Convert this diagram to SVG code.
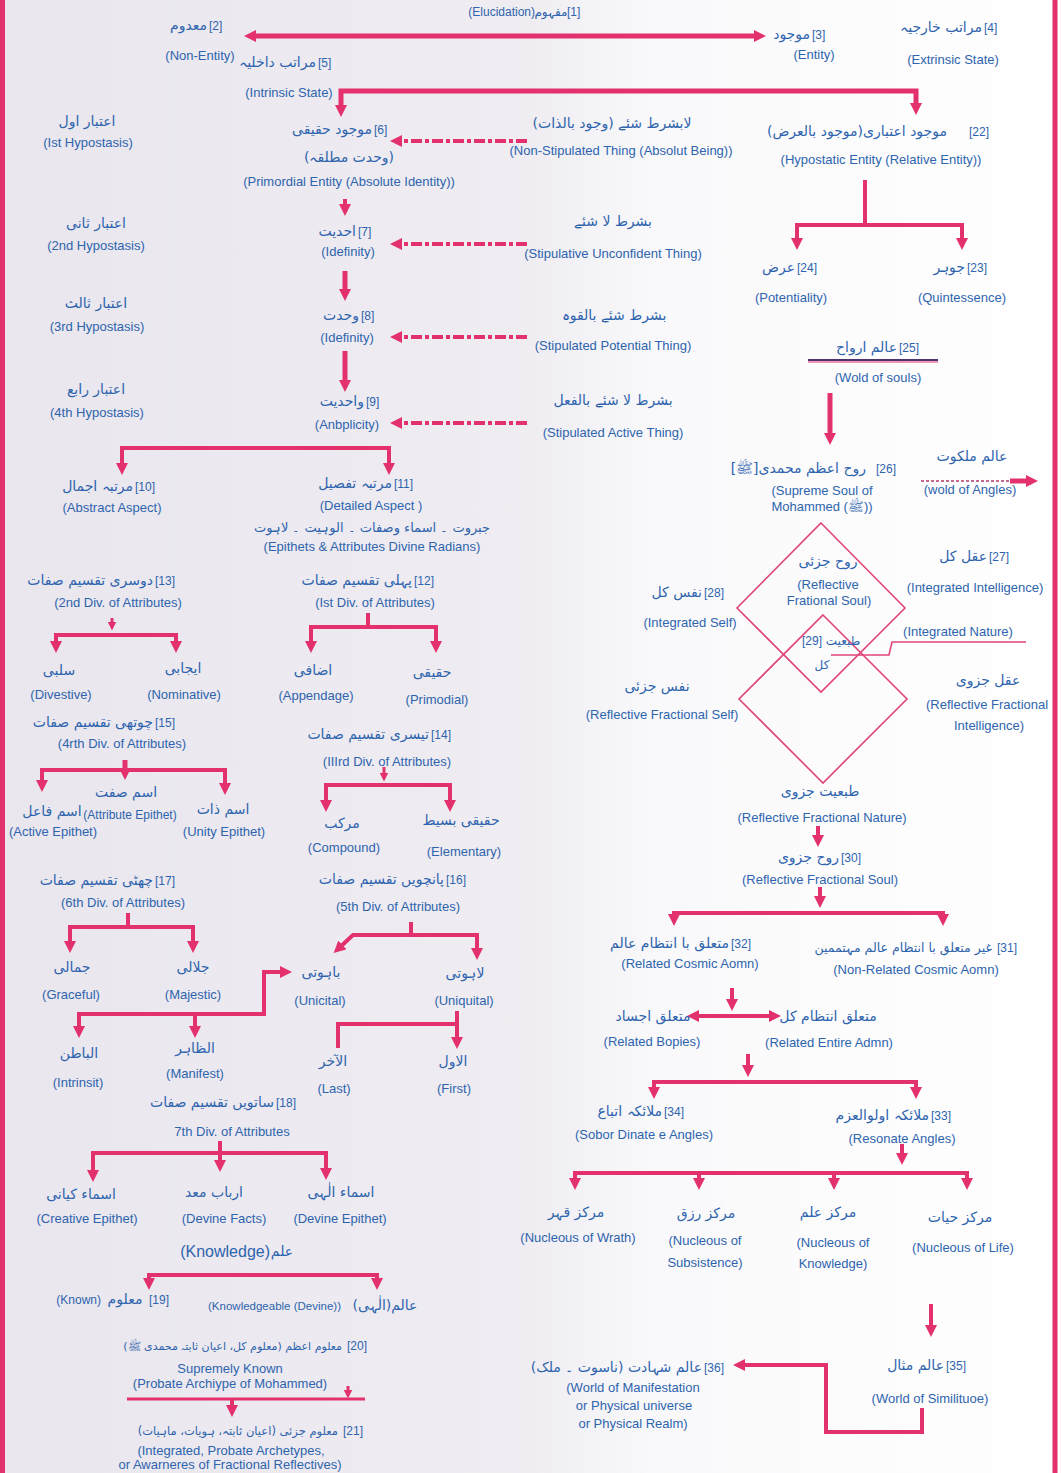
<svg xmlns="http://www.w3.org/2000/svg" width="1061" height="1473" viewBox="0 0 1061 1473">
<defs>
<linearGradient id="bg" x1="0" y1="0" x2="1" y2="0">
<stop offset="0" stop-color="#e9e6ee"/>
<stop offset="0.5" stop-color="#efedf2"/>
<stop offset="0.62" stop-color="#f9f9fb"/>
<stop offset="1" stop-color="#ffffff"/>
</linearGradient>
<marker id="a" viewBox="0 0 12 12" refX="6" refY="6" markerWidth="12" markerHeight="12" markerUnits="userSpaceOnUse" orient="auto-start-reverse"><path d="M0,0L12,6L0,12z" fill="#e3316d"/></marker>
<marker id="b" viewBox="0 0 10 10" refX="5" refY="5" markerWidth="9" markerHeight="9" markerUnits="userSpaceOnUse" orient="auto-start-reverse"><path d="M0,0L10,5L0,10z" fill="#e3316d"/></marker>
</defs>
<style>
.c{fill:none;stroke:#e3316d;stroke-width:4}
.t{fill:none;stroke:#e3316d;stroke-width:5}
.s{fill:none;stroke:#e3316d;stroke-width:3}
.cd{fill:none;stroke:#e3316d;stroke-width:4;stroke-dasharray:11 3 4 3}
.d{fill:none;stroke:#e0457a;stroke-width:1.6}
.e{font-family:"Liberation Sans",Arial,sans-serif;font-size:13px;fill:#2e64ad;text-anchor:middle}
.n{font-family:"Liberation Sans",Arial,sans-serif;font-size:12px;fill:#2e64ad}
.u{font-family:"DejaVu Sans","Noto Sans",sans-serif;font-size:14px;fill:#2e64ad;text-anchor:middle;direction:rtl}
.ur{font-family:"DejaVu Sans","Noto Sans",sans-serif;font-size:14px;fill:#2e64ad;text-anchor:start;direction:rtl}
</style>
<rect x="0" y="0" width="1061" height="1473" fill="url(#bg)"/>
<g id="borders">
<line x1="2.5" y1="0" x2="2.5" y2="1473" stroke="#e3316d" stroke-width="5"/>
<line x1="1055" y1="0" x2="1055" y2="1473" stroke="#e3316d" stroke-width="5"/>
</g>

<g id="connectors">
<path class="t" d="M250,36H760" marker-start="url(#a)" marker-end="url(#a)"/>
<path class="t" d="M341,111V91H916V109" marker-start="url(#a)" marker-end="url(#a)"/>
<path class="cd" d="M527,141H396" marker-end="url(#a)"/>
<path class="cd" d="M527,244H396" marker-end="url(#a)"/>
<path class="cd" d="M527,337H396" marker-end="url(#a)"/>
<path class="cd" d="M527,423H396" marker-end="url(#a)"/>
<path class="c" d="M345,199V210" marker-end="url(#a)"/>
<path class="t" d="M345,271V295" marker-end="url(#a)"/>
<path class="t" d="M345,351V386" marker-end="url(#a)"/>
<path class="c" d="M122,469V448H389V469" marker-start="url(#a)" marker-end="url(#a)"/>
<path class="c" d="M865,180V225"/>
<path class="c" d="M797,244V225H962V244" marker-start="url(#a)" marker-end="url(#a)"/>
<path d="M808,360H938" fill="none" stroke="#4b3470" stroke-width="2"/>
<path d="M808,362H938" fill="none" stroke="#e3316d" stroke-width="1"/>
<path class="t" d="M830,393V439" marker-end="url(#a)"/>
<path d="M921,481H1011" fill="none" stroke="#b03a6a" stroke-width="1.5" stroke-dasharray="3 2"/>
<path class="t" d="M1010,481H1032" marker-end="url(#a)"/>
<path class="d" d="M821,523L905,608L821,692L737,608Z"/>
<path class="d" d="M823,615L907,699L823,783L739,699Z"/>
<path class="d" d="M1026,642H892L889,655H831"/>
<path class="c" d="M818,826V841" marker-end="url(#a)"/>
<path class="c" d="M820,887V902" marker-end="url(#a)"/>
<path class="c" d="M674,920V913H943V920" marker-start="url(#a)" marker-end="url(#a)"/>
<path class="c" d="M732,988V1005" marker-end="url(#a)"/>
<path class="c" d="M693,1016H775" marker-start="url(#a)" marker-end="url(#a)"/>
<path class="c" d="M748,1054V1071" marker-end="url(#a)"/>
<path class="c" d="M654,1093V1082H916V1093" marker-start="url(#a)" marker-end="url(#a)"/>
<path class="c" d="M902,1144V1159" marker-end="url(#a)"/>
<path class="c" d="M575,1184V1173H967V1184" marker-start="url(#a)" marker-end="url(#a)"/>
<path class="c" d="M699,1173V1184" marker-end="url(#a)"/>
<path class="c" d="M834,1173V1184" marker-end="url(#a)"/>
<path class="c" d="M931,1304V1331" marker-end="url(#a)"/>
<path class="c" d="M922,1408V1432H826V1365H739" marker-end="url(#a)"/>
<path class="c" d="M368,613V627"/>
<path class="c" d="M311,647V627H436V647" marker-start="url(#a)" marker-end="url(#a)"/>
<path class="s" d="M112,618V626" marker-end="url(#b)"/>
<path class="c" d="M56,647V635H176V647" marker-start="url(#a)" marker-end="url(#a)"/>
<path class="t" d="M125,760V774" marker-end="url(#a)"/>
<path class="c" d="M42,786V770H225V789" marker-start="url(#a)" marker-end="url(#a)"/>
<path class="s" d="M384,767V777" marker-end="url(#b)"/>
<path class="c" d="M326,806V785H450V806" marker-start="url(#a)" marker-end="url(#a)"/>
<path class="c" d="M128,913V927"/>
<path class="c" d="M70,947V927H193V947" marker-start="url(#a)" marker-end="url(#a)"/>
<path class="c" d="M411,922V935"/>
<path class="c" d="M477,954V935H353L338,949" marker-start="url(#a)" marker-end="url(#a)"/>
<path class="c" d="M79,1032V1014H264V972H286" marker-start="url(#a)" marker-end="url(#a)"/>
<path class="c" d="M195,1014V1032" marker-end="url(#a)"/>
<path class="c" d="M457,1011V1043" marker-end="url(#a)"/>
<path class="c" d="M338,1048V1024H457"/>
<path class="c" d="M220,1141V1166" marker-end="url(#a)"/>
<path class="c" d="M93,1176V1153H326V1174" marker-start="url(#a)" marker-end="url(#a)"/>
<path class="c" d="M149,1284V1275H377V1284" marker-start="url(#a)" marker-end="url(#a)"/>
<path class="s" d="M348,1386V1394" marker-end="url(#b)"/>
<path class="s" d="M127,1399H365"/>
<path class="c" d="M232,1399V1411" marker-end="url(#a)"/>
</g>

<g id="n1"><text class="e" x="535" y="16" style="text-anchor:end;font-size:12px">(Elucidation)</text><text class="u" x="551" y="16" style="font-size:12px">مفہوم</text><text class="n" x="567" y="16">[1]</text></g>
<g id="n2"><text class="ur" x="207" y="30">معدوم</text><text class="n" x="209" y="30">[2]</text><text class="e" x="200" y="60">(Non-Entity)</text></g>
<g id="n3"><text class="ur" x="810" y="39">موجود</text><text class="n" x="812" y="39">[3]</text><text class="e" x="814" y="59">(Entity)</text></g>
<g id="n4"><text class="ur" x="982" y="32">مراتب خارجیہ</text><text class="n" x="984" y="32">[4]</text><text class="e" x="953" y="64">(Extrinsic State)</text></g>
<g id="n5"><text class="ur" x="316" y="67">مراتب داخلیہ</text><text class="n" x="318" y="67">[5]</text><text class="e" x="289" y="97">(Intrinsic State)</text></g>
<g id="n6"><text class="ur" x="372" y="134">موجود حقیقی</text><text class="n" x="374" y="134">[6]</text><text class="u" x="349" y="162">(وحدت مطلقہ)</text><text class="e" x="349" y="186">(Primordial Entity (Absolute Identity))</text></g>
<g id="h1"><text class="u" x="87" y="126">اعتبار اول</text><text class="e" x="88" y="147">(Ist Hypostasis)</text></g>
<g id="ns"><text class="u" x="612" y="128">لابشرط شئے (وجود بالذات)</text><text class="e" x="621" y="155">(Non-Stipulated Thing (Absolut Being))</text></g>
<g id="n22"><text class="ur" x="947" y="136">موجود اعتباری(موجود بالعرض)</text><text class="n" x="969" y="136">[22]</text><text class="e" x="881" y="164">(Hypostatic Entity (Relative Entity))</text></g>
<g id="n7"><text class="ur" x="356" y="236">احدیت</text><text class="n" x="358" y="236">[7]</text><text class="e" x="348" y="256">(Idefinity)</text></g>
<g id="h2"><text class="u" x="96" y="228">اعتبار ثانی</text><text class="e" x="96" y="250">(2nd Hypostasis)</text></g>
<g id="su"><text class="u" x="613" y="226">بشرط لا شئے</text><text class="e" x="613" y="258">(Stipulative Unconfident Thing)</text></g>
<g id="n8"><text class="ur" x="359" y="320">وحدت</text><text class="n" x="361" y="320">[8]</text><text class="e" x="347" y="342">(Idefinity)</text></g>
<g id="h3"><text class="u" x="96" y="308">اعتبار ثالث</text><text class="e" x="97" y="331">(3rd Hypostasis)</text></g>
<g id="sp"><text class="u" x="614" y="320">بشرط شئے بالقوہ</text><text class="e" x="613" y="350">(Stipulated Potential Thing)</text></g>
<g id="n9"><text class="ur" x="364" y="406">واحدیت</text><text class="n" x="366" y="406">[9]</text><text class="e" x="347" y="429">(Anbplicity)</text></g>
<g id="h4"><text class="u" x="96" y="394">اعتبار رابع</text><text class="e" x="97" y="417">(4th Hypostasis)</text></g>
<g id="sa"><text class="u" x="613" y="405">بشرط لا شئے بالفعل</text><text class="e" x="613" y="437">(Stipulated Active Thing)</text></g>
<g id="n10"><text class="ur" x="133" y="491">مرتبہ اجمال</text><text class="n" x="135" y="491">[10]</text><text class="e" x="112" y="512">(Abstract Aspect)</text></g>
<g id="n11"><text class="ur" x="392" y="488">مرتبہ تفصیل</text><text class="n" x="394" y="488">[11]</text><text class="e" x="371" y="510">(Detailed Aspect )</text><text class="u" x="372" y="532" style="font-size:13px">جبروت ۔ اسماء وصفات ۔ الوہیت ۔ لاہوت</text><text class="e" x="372" y="551">(Epithets &amp; Attributes Divine Radians)</text></g>
<g id="n24"><text class="ur" x="795" y="272">عرض</text><text class="n" x="797" y="272">[24]</text><text class="e" x="791" y="302">(Potentiality)</text></g>
<g id="n23"><text class="ur" x="965" y="272">جوہر</text><text class="n" x="967" y="272">[23]</text><text class="e" x="962" y="302">(Quintessence)</text></g>
<g id="n25"><text class="ur" x="897" y="352">عالم ارواح</text><text class="n" x="899" y="352">[25]</text><text class="e" x="878" y="382">(Wold of souls)</text></g>
<g id="n26"><text class="ur" x="866" y="473">روح اعظم محمدی[ﷺ]</text><text class="n" x="876" y="473">[26]</text><text class="e" x="822" y="495">(Supreme Soul of</text><text class="e" x="822" y="511">Mohammed (ﷺ))</text></g>
<g id="malakut"><text class="u" x="972" y="461">عالم ملکوت</text><text class="e" x="970" y="494">(wold of Angles)</text></g>
<g id="rfsoul"><text class="u" x="828" y="566">روح جزئی</text><text class="e" x="828" y="589">(Reflective</text><text class="e" x="829" y="605">Frational Soul)</text></g>
<g id="n28"><text class="ur" x="702" y="597">نفس کل</text><text class="n" x="704" y="597">[28]</text><text class="e" x="690" y="627">(Integrated Self)</text></g>
<g id="n27"><text class="ur" x="987" y="561">عقل کل</text><text class="n" x="989" y="561">[27]</text><text class="e" x="975" y="592">(Integrated Intelligence)</text></g>
<g id="n29"><text class="n" x="802" y="645">[29]</text><text class="u" x="843" y="645" style="font-size:12px">طبعیت</text><text class="u" x="822" y="669" style="font-size:12px">کل</text><text class="e" x="958" y="636">(Integrated Nature)</text></g>
<g id="nafsj"><text class="u" x="657" y="691">نفس جزئی</text><text class="e" x="662" y="719">(Reflective Fractional Self)</text></g>
<g id="aqlj"><text class="u" x="988" y="685">عقل جزوی</text><text class="e" x="926" y="709" style="text-anchor:start">(Reflective Fractional</text><text class="e" x="989" y="730">Intelligence)</text></g>
<g id="tabj"><text class="u" x="820" y="796">طبعیت جزوی</text><text class="e" x="822" y="822">(Reflective Fractional Nature)</text></g>
<g id="n30"><text class="ur" x="839" y="862">روح جزوی</text><text class="n" x="841" y="862">[30]</text><text class="e" x="820" y="884">(Reflective Fractional Soul)</text></g>
<g id="n32"><text class="ur" x="729" y="948">متعلق با انتظام عالم</text><text class="n" x="731" y="948">[32]</text><text class="e" x="690" y="968">(Related Cosmic Aomn)</text></g>
<g id="n31"><text class="ur" x="992" y="952" style="font-size:12.5px">غیر متعلق با انتظام عالم مہتممین</text><text class="n" x="997" y="952">[31]</text><text class="e" x="916" y="974">(Non-Related Cosmic Aomn)</text></g>
<g id="rb"><text class="u" x="653" y="1021">متعلق اجساد</text><text class="e" x="652" y="1046">(Related Bopies)</text></g>
<g id="rea"><text class="u" x="828" y="1021">متعلق انتظام کل</text><text class="e" x="829" y="1047">(Related Entire Admn)</text></g>
<g id="n34"><text class="ur" x="662" y="1116">ملائکہ اتباع</text><text class="n" x="664" y="1116">[34]</text><text class="e" x="644" y="1139">(Sobor Dinate e Angles)</text></g>
<g id="n33"><text class="ur" x="929" y="1120">ملائکہ اولوالعزم</text><text class="n" x="931" y="1120">[33]</text><text class="e" x="902" y="1143">(Resonate Angles)</text></g>
<g id="mq"><text class="u" x="576" y="1217">مرکز قہر</text><text class="e" x="578" y="1242">(Nucleous of Wrath)</text></g>
<g id="mr"><text class="u" x="706" y="1218">مرکز رزق</text><text class="e" x="705" y="1245">(Nucleous of</text><text class="e" x="705" y="1267">Subsistence)</text></g>
<g id="mi"><text class="u" x="828" y="1217">مرکز علم</text><text class="e" x="833" y="1247">(Nucleous of</text><text class="e" x="833" y="1268">Knowledge)</text></g>
<g id="mh"><text class="u" x="960" y="1222">مرکز حیات</text><text class="e" x="963" y="1252">(Nucleous of Life)</text></g>
<g id="n35"><text class="ur" x="944" y="1370">عالم مثال</text><text class="n" x="946" y="1370">[35]</text><text class="e" x="930" y="1403">(World of Similituoe)</text></g>
<g id="n36"><text class="ur" x="702" y="1372">عالم شہادت (ناسوت ۔ ملک)</text><text class="n" x="704" y="1372">[36]</text><text class="e" x="633" y="1392">(World of Manifestation</text><text class="e" x="634" y="1410">or Physical universe</text><text class="e" x="633" y="1428">or Physical Realm)</text></g>
<g id="n12"><text class="ur" x="412" y="585">پہلی تقسیم صفات</text><text class="n" x="414" y="585">[12]</text><text class="e" x="375" y="607">(Ist Div. of Attributes)</text></g>
<g id="n13"><text class="ur" x="153" y="585">دوسری تقسیم صفات</text><text class="n" x="155" y="585">[13]</text><text class="e" x="118" y="607">(2nd Div. of Attributes)</text></g>
<g id="salbi"><text class="u" x="59" y="675">سلبی</text><text class="e" x="61" y="699">(Divestive)</text></g>
<g id="ijabi"><text class="u" x="183" y="673">ایجابی</text><text class="e" x="184" y="699">(Nominative)</text></g>
<g id="izafi"><text class="u" x="313" y="675">اضافی</text><text class="e" x="316" y="700">(Appendage)</text></g>
<g id="haqiqi"><text class="u" x="432" y="677">حقیقی</text><text class="e" x="437" y="704">(Primodial)</text></g>
<g id="n15"><text class="ur" x="153" y="727">چوتھی تقسیم صفات</text><text class="n" x="155" y="727">[15]</text><text class="e" x="122" y="748">(4rth Div. of Attributes)</text></g>
<g id="n14"><text class="ur" x="429" y="739">تیسری تقسیم صفات</text><text class="n" x="431" y="739">[14]</text><text class="e" x="387" y="766">(IIIrd Div. of Attributes)</text></g>
<g id="ismsifat"><text class="u" x="126" y="797">اسم صفت</text><text class="e" x="130" y="819" style="font-size:12px">(Attribute Epithet)</text></g>
<g id="ismfail"><text class="u" x="52" y="816">اسم فاعل</text><text class="e" x="53" y="836">(Active Epithet)</text></g>
<g id="ismzat"><text class="u" x="223" y="814">اسم ذات</text><text class="e" x="224" y="836">(Unity Epithet)</text></g>
<g id="murakkab"><text class="u" x="342" y="828">مرکب</text><text class="e" x="344" y="852">(Compound)</text></g>
<g id="basit"><text class="u" x="461" y="825">حقیقی بسیط</text><text class="e" x="464" y="856">(Elementary)</text></g>
<g id="n17"><text class="ur" x="153" y="885">چھٹی تقسیم صفات</text><text class="n" x="155" y="885">[17]</text><text class="e" x="123" y="907">(6th Div. of Attributes)</text></g>
<g id="n16"><text class="ur" x="444" y="884">پانچویں تقسیم صفات</text><text class="n" x="446" y="884">[16]</text><text class="e" x="398" y="911">(5th Div. of Attributes)</text></g>
<g id="jamali"><text class="u" x="72" y="972">جمالی</text><text class="e" x="71" y="999">(Graceful)</text></g>
<g id="jalali"><text class="u" x="193" y="972">جلالی</text><text class="e" x="193" y="999">(Majestic)</text></g>
<g id="bahuti"><text class="u" x="321" y="977">باہوتی</text><text class="e" x="320" y="1005">(Unicital)</text></g>
<g id="lahuti"><text class="u" x="465" y="978">لاہوتی</text><text class="e" x="464" y="1005">(Uniquital)</text></g>
<g id="batin"><text class="u" x="79" y="1058">الباطن</text><text class="e" x="78" y="1087">(Intrinsit)</text></g>
<g id="zahir"><text class="u" x="195" y="1053">الظاہر</text><text class="e" x="195" y="1078">(Manifest)</text></g>
<g id="akhir"><text class="u" x="333" y="1066">الآخر</text><text class="e" x="334" y="1093">(Last)</text></g>
<g id="awwal"><text class="u" x="453" y="1066">الاول</text><text class="e" x="454" y="1093">(First)</text></g>
<g id="n18"><text class="ur" x="274" y="1107">ساتویں تقسیم صفات</text><text class="n" x="276" y="1107">[18]</text><text class="e" x="232" y="1136">7th Div. of Attributes</text></g>
<g id="kiyani"><text class="u" x="81" y="1199">اسماء کیانی</text><text class="e" x="87" y="1223">(Creative Epithet)</text></g>
<g id="arbab"><text class="u" x="214" y="1197">ارباب معد</text><text class="e" x="224" y="1223">(Devine Facts)</text></g>
<g id="ilahi"><text class="u" x="341" y="1197">اسماء الٰہی</text><text class="e" x="340" y="1223">(Devine Epithet)</text></g>
<g id="ilm"><text class="e" x="270" y="1257" style="text-anchor:end;font-size:16px">(Knowledge)</text><text class="u" x="282" y="1256">علم</text></g>
<g id="n19"><text class="e" x="101" y="1304" style="text-anchor:end;font-size:12px">(Known)</text><text class="u" x="125" y="1304">معلوم</text><text class="n" x="149" y="1304">[19]</text></g>
<g id="alim"><text class="e" x="341" y="1310" style="text-anchor:end;font-size:11.5px">(Knowledgeable (Devine))</text><text class="u" x="385" y="1310">عالم(الٰہی)</text></g>
<g id="n20"><text class="ur" x="342" y="1350" style="font-size:11px">معلوم اعظم (معلوم کل، اعیان ثابتہ محمدی ﷺ)</text><text class="n" x="347" y="1350">[20]</text><text class="e" x="230" y="1373">Supremely Known</text><text class="e" x="230" y="1388">(Probate Archiype of Mohammed)</text></g>
<g id="n21"><text class="ur" x="338" y="1435" style="font-size:11.5px">معلوم جزئی (اعیان ثابتہ، ہویات، ماہیات)</text><text class="n" x="343" y="1435">[21]</text><text class="e" x="231" y="1455">(Integrated, Probate Archetypes,</text><text class="e" x="230" y="1469">or Awarneres of Fractional Reflectives)</text></g>
</svg>
